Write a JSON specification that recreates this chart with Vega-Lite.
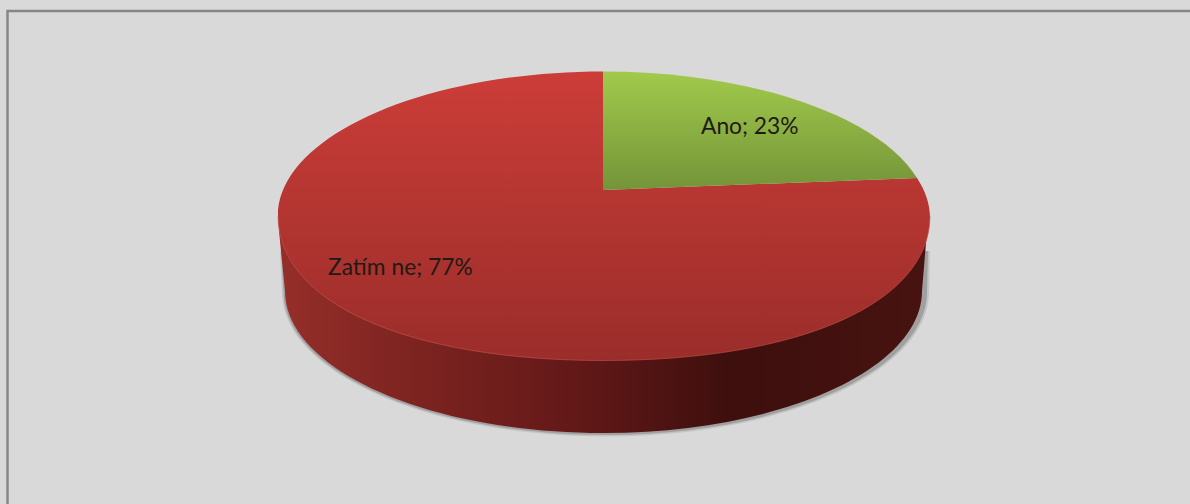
{
  "$schema": "https://vega.github.io/schema/vega-lite/v6.json",
  "width": 1190,
  "height": 504,
  "autosize": "none",
  "padding": 0,
  "background": "#d9d9d9",
  "view": {"stroke": null},
  "datasets": {
    "answers": [
      {"answer": "Ano", "share": 23},
      {"answer": "Zatím ne", "share": 77}
    ]
  },
  "data": {"name": "answers"},
  "layer": [
    {
      "encoding": {
        "x": {"datum": 604, "type": "quantitative", "scale": {"domain": [0, 1190], "range": [0, 1190]}, "axis": null},
        "y": {"datum": 216, "type": "quantitative", "scale": {"domain": [0, 504], "range": [0, 504]}, "axis": null},
        "size": {"value": 4}
      },
      "layer": [
        {
          "transform": [{"filter": "datum.answer === 'Ano'"}],
          "mark": {"type": "point", "filled": true, "opacity": 0.16, "fill": "#555555", "stroke": null,
            "shape": "M-324,35 L-322,76 A323.5 144.5 0 0 0 325,76 L326,35 Z"}
        },
        {
          "transform": [{"filter": "datum.answer === 'Ano'"}],
          "mark": {"type": "point", "filled": true, "opacity": 0.28, "fill": "#444444", "stroke": null,
            "shape": "M-323,35 L-320.5,76 A321.75 143 0 0 0 323,76 L324,35 Z"}
        },
        {
          "transform": [{"filter": "datum.answer === 'Zatím ne'"}],
          "mark": {"type": "point", "filled": true, "opacity": 1, "stroke": null,
            "shape": "M-325,15 L-319,75 A318.5 142 0 0 0 318,75 L323,15 Z",
            "fill": {"gradient": "linear", "x1": 0, "x2": 1, "y1": 0, "y2": 0, "stops": [
              {"offset": 0, "color": "#952e29"},
              {"offset": 0.2, "color": "#7e2421"},
              {"offset": 0.45, "color": "#631918"},
              {"offset": 0.7, "color": "#3d0f0d"},
              {"offset": 1, "color": "#471310"}
            ]}}
        },
        {
          "transform": [{"filter": "datum.answer === 'Zatím ne'"}],
          "mark": {"type": "point", "filled": true, "opacity": 1, "stroke": null,
            "shape": "M-1,-26 L-1,-144.5 A326 144.5 0 0 0 -326,0 C-326,87 -196,144.5 0,144.5 C196,144.5 326,87 326,0 A326 144.5 0 0 0 313,-38 Z",
            "fill": {"gradient": "linear", "x1": 0, "x2": 0, "y1": 0, "y2": 1, "stops": [
              {"offset": 0, "color": "#cc3d38"},
              {"offset": 1, "color": "#9a2d2a"}
            ]}}
        },
        {
          "transform": [{"filter": "datum.answer === 'Ano'"}],
          "mark": {"type": "point", "filled": true, "opacity": 1, "stroke": null,
            "shape": "M-1,-26 L-1,-144.5 A326 144.5 0 0 1 313,-38 Z",
            "fill": {"gradient": "linear", "x1": 0, "x2": 0, "y1": 0, "y2": 1, "stops": [
              {"offset": 0, "color": "#a1ca4b"},
              {"offset": 1, "color": "#749439"}
            ]}}
        },
        {
          "transform": [{"filter": "datum.answer === 'Zatím ne'"}],
          "mark": {"type": "point", "filled": false, "fill": null, "opacity": 1, "stroke": "#c9534d", "strokeOpacity": 0.6, "strokeWidth": 1,
            "shape": "M326,0 C326,87 196,144.5 0,144.5 C-196,144.5 -326,87 -326,0"}
        },
        {
          "transform": [{"filter": "datum.answer === 'Ano'"}],
          "mark": {"type": "point", "filled": false, "fill": null, "opacity": 1, "stroke": "#868686", "strokeWidth": 2.5,
            "shape": "M-596.5,500 L-596.5,-205 L600,-205"}
        }
      ]
    },
    {
      "transform": [{"calculate": "datum.answer + '; ' + datum.share + '%'", "as": "caption"}],
      "mark": {"type": "text", "font": "Lato", "fontSize": 22.8, "align": "left", "baseline": "middle", "color": "#1f1a14"},
      "encoding": {
        "x": {"field": "share", "type": "quantitative", "scale": {"domain": [23, 77], "range": [701, 328]}, "axis": null},
        "y": {"field": "share", "type": "quantitative", "scale": {"domain": [23, 77], "range": [127, 268]}, "axis": null},
        "text": {"field": "caption", "type": "nominal"}
      }
    }
  ],
  "resolve": {"scale": {"x": "independent", "y": "independent"}}
}
